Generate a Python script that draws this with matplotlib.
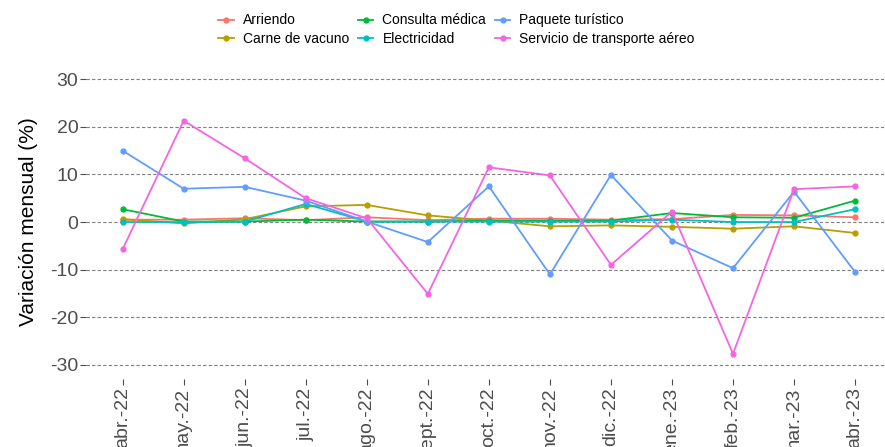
import matplotlib
matplotlib.use("Agg")
import matplotlib.pyplot as plt

plt.rcParams["font.family"] = ["Liberation Sans", "DejaVu Sans"]
plt.rcParams["axes.unicode_minus"] = False

# Data (monthly variation, %)
months = ["abr.-22", "may.-22", "jun.-22", "jul.-22", "ago.-22", "sept.-22", "oct.-22",
          "nov.-22", "dic.-22", "ene.-23", "feb.-23", "mar.-23", "abr.-23"]

arriendo = [0.5, 0.5, 0.8, 0.4, 1.0, 0.4, 0.7, 0.7, 0.5, 0.6, 1.5, 1.4, 1.0]
carne_vacuno = [0.6, -0.3, 0.6, 3.3, 3.6, 1.4, 0.3, -0.9, -0.7, -1.0, -1.4, -0.9, -2.3]
consulta_medica = [2.7, 0.1, 0.1, 0.5, 0.1, 0.1, 0.3, 0.3, 0.3, 1.9, 1.0, 0.9, 4.5]
electricidad = [0.0, 0.0, 0.1, 3.8, 0.1, 0.1, 0.1, 0.1, 0.1, 0.5, 0.0, 0.0, 2.7]
paquete_turistico = [15.0, 7.0, 7.4, 4.5, 0.1, -4.2, 7.5, -11.0, 9.9, -3.9, -9.7, 6.4, -10.5]
transporte_aereo = [-5.7, 21.3, 13.4, 5.0, 0.8, -15.1, 11.5, 9.8, -9.0, 2.2, -27.7, 6.9, 7.5]

series = [
    ("Arriendo", arriendo, "#F8766D"),
    ("Carne de vacuno", carne_vacuno, "#B79F00"),
    ("Consulta médica", consulta_medica, "#00BA38"),
    ("Electricidad", electricidad, "#00BFC4"),
    ("Paquete turístico", paquete_turistico, "#619CFF"),
    ("Servicio de transporte aéreo", transporte_aereo, "#F564E3"),
]

fig = plt.figure(figsize=(8.85, 4.47), dpi=100)
ax = fig.add_axes([0.0972, 0.152, 0.9028, 0.7025])

x = list(range(len(months)))
for name, values, color in series:
    ax.plot(x, values, color=color, linewidth=1.3, marker="o", markersize=3.5,
            label=name, zorder=3)

ax.set_ylim(-33, 33)
ax.set_xlim(-0.6, 12.49)
ax.set_yticks([-30, -20, -10, 0, 10, 20, 30])
ax.set_xticks(x)
ax.set_xticklabels(months, rotation=90)
ax.yaxis.grid(True, linestyle=(0, (3, 2)), color="#7F7F7F", linewidth=0.8)
ax.xaxis.grid(False)
ax.set_axisbelow(True)
for spine in ax.spines.values():
    spine.set_visible(False)
ax.tick_params(axis="both", colors="#4D4D4D", labelsize=14, length=4, width=0.8,
               labelcolor="#4D4D4D")
ax.tick_params(axis="y", pad=1.5)
ax.tick_params(axis="x", pad=2)
ax.set_ylabel("Variación mensual (%)", fontsize=15, color="black", va="center")
ax.yaxis.set_label_coords(-0.072, 0.5)

fig.legend(loc="upper center", bbox_to_anchor=(0.516, 0.998), ncol=3, frameon=False,
           fontsize=10, handlelength=1.1, handletextpad=0.65, columnspacing=0.65,
           labelspacing=0.35)

fig.savefig("out.png", dpi=100)
